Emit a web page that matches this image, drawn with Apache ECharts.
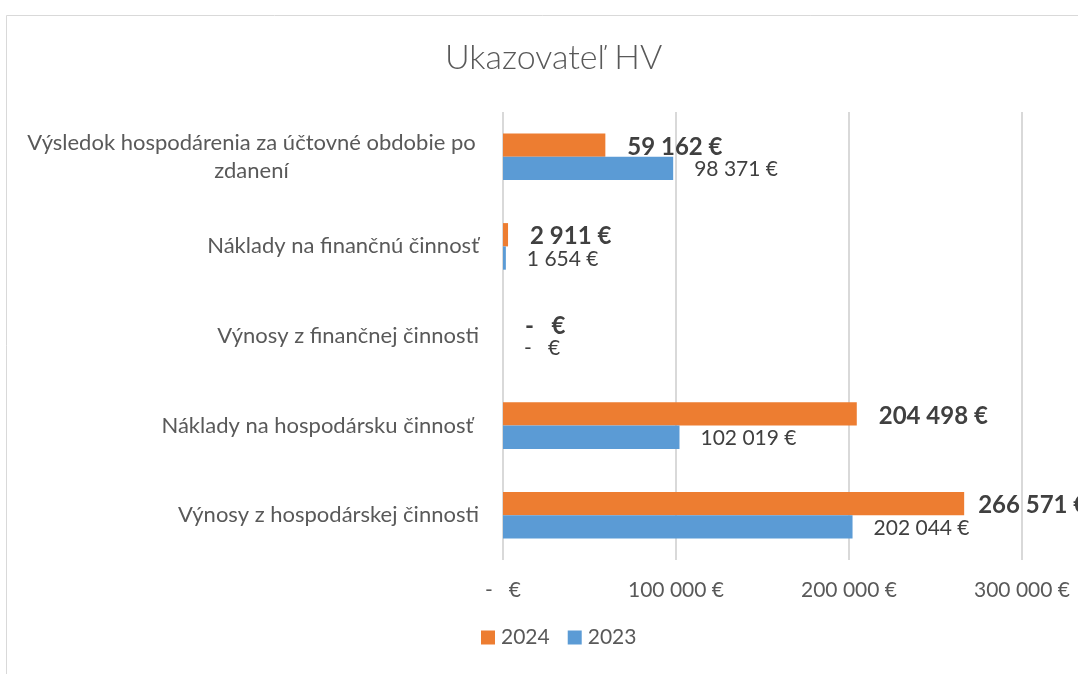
<!DOCTYPE html>
<html>
<head>
<meta charset="utf-8">
<script src="https://cdn.jsdelivr.net/npm/echarts@6/dist/echarts.min.js"></script>
<style>
  html, body {margin: 0; padding: 0; background: #fff;}
  #main {width: 1078px; height: 674px;}
</style>
</head>
<body>
<div id="main"></div>
<script>
// categories listed top to bottom
const categories = [
    'Výsledok hospodárenia za účtovné obdobie po\nzdanení',
    'Náklady na finančnú činnosť',
    'Výnosy z finančnej činnosti',
    'Náklady na hospodársku činnosť ',
    'Výnosy z hospodárskej činnosti'
];
const values2024 = [59162, 2911, 0, 204498, 266571];
const values2023 = [98371, 1654, 0, 102019, 202044];
const axisTicks = [0, 100000, 200000, 300000];

const FONT = 'Lato';

function euro(v) {
    if (!v) return '-   €';
    return String(Math.round(v)).replace(/\B(?=(\d{3})+(?!\d))/g, ' ') + ' €';
}

// excel pulls the label of the longest bar a bit closer so it fits
const data2024 = values2024.map(v => v > 250000 ? {value: v, label: {distance: 14}} : v);

const chart = echarts.init(document.getElementById('main'));

chart.setOption({
    animation: false,
    backgroundColor: '#fff',
    textStyle: {fontFamily: FONT},
    graphic: [{
        type: 'rect',
        left: 4, top: 13,
        shape: {width: 1200, height: 700},
        style: {fill: 'none', stroke: '#d9d9d9', lineWidth: 1},
        silent: true
    }],
    title: {
        text: 'Ukazovateľ HV',
        left: 440,
        top: 36,
        textStyle: {fontFamily: FONT, fontSize: 34, fontWeight: 300, color: '#595959'}
    },
    legend: {
        bottom: 21,
        left: 476,
        itemWidth: 14,
        itemHeight: 14,
        itemGap: 18,
        icon: 'rect',
        textStyle: {fontFamily: FONT, fontSize: 21, color: '#595959', padding: [0, 0, 0, 1]},
        data: ['2024', '2023']
    },
    grid: {left: 503, right: 56, top: 112, bottom: 114, containLabel: false},
    xAxis: {
        type: 'value',
        min: axisTicks[0],
        max: axisTicks[axisTicks.length - 1],
        interval: axisTicks[1] - axisTicks[0],
        axisLine: {show: false},
        axisTick: {show: false},
        splitLine: {lineStyle: {color: '#d9d9d9', width: 2}},
        axisLabel: {
            margin: 20,
            fontFamily: FONT, fontSize: 21, color: '#595959',
            formatter: euro
        }
    },
    yAxis: {
        type: 'category',
        inverse: true,
        data: categories,
        axisLine: {show: false},
        axisTick: {show: false},
        axisLabel: {
            margin: 24,
            fontFamily: FONT, fontSize: 22, color: '#595959',
            formatter: function (v) {
                if (v.indexOf('\n') >= 0) return '{c|' + v + '}';
                return v;
            },
            rich: {
                c: {fontFamily: FONT, fontSize: 22, color: '#595959', align: 'center', width: 455, lineHeight: 28}
            }
        }
    },
    series: [
        {
            name: '2024',
            type: 'bar',
            data: data2024,
            barGap: '0%',
            barCategoryGap: '48%',
            itemStyle: {color: '#ED7D31'},
            label: {
                show: true,
                position: 'right',
                distance: 22,
                offset: [0, 2],
                fontFamily: FONT, fontSize: 24, fontWeight: 'bold', color: '#404040',
                formatter: p => euro(p.value)
            }
        },
        {
            name: '2023',
            type: 'bar',
            data: values2023,
            barGap: '0%',
            barCategoryGap: '48%',
            itemStyle: {color: '#5B9BD5'},
            label: {
                show: true,
                position: 'right',
                distance: 21,
                offset: [0, 1],
                fontFamily: FONT, fontSize: 21, color: '#404040',
                formatter: p => euro(p.value)
            }
        }
    ]
});
</script>
</body>
</html>
